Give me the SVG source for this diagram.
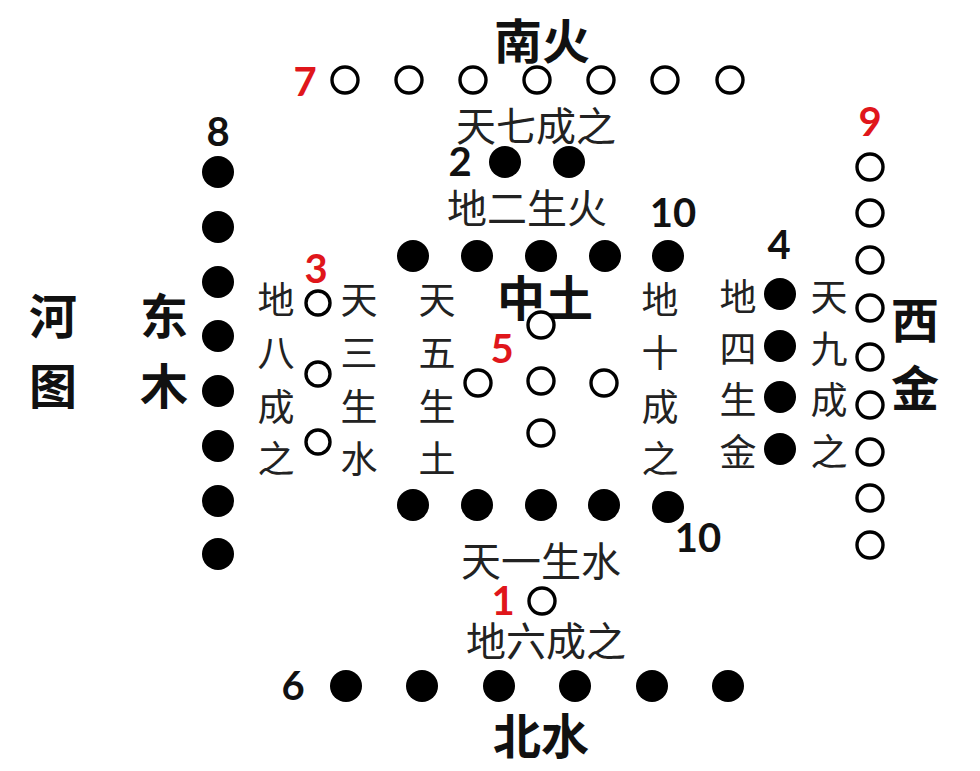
<svg xmlns="http://www.w3.org/2000/svg" width="980" height="771" viewBox="0 0 980 771">
<style>
  .o{fill:#fff;stroke:#000;stroke-width:3.4}
  .f{fill:#000}
  .t{font-family:"Noto Sans CJK SC","Noto Sans CJK JP",sans-serif;font-size:48px;font-weight:700;fill:#111;text-anchor:middle;dominant-baseline:central}
  .l{font-family:"Noto Sans CJK SC","Noto Sans CJK JP",sans-serif;font-size:37px;font-weight:400;fill:#222;text-anchor:middle;dominant-baseline:central}
  .h{font-size:40px}
  .n{font-family:Lato,"Open Sans",sans-serif;font-size:40px;font-weight:700;fill:#111;text-anchor:middle;dominant-baseline:central}
  .r{fill:#e0161b}
</style>
<rect width="980" height="771" fill="#fff"/>

<g id="title">
  <text class="t" x="53" y="313">河</text>
  <text class="t" x="53" y="383">图</text>
</g>

<g id="south-7">
  <text class="t" x="542" y="38">南火</text>
  <text class="n r" x="305" y="81">7</text>
  <circle class="o" cx="345" cy="80" r="13"/>
  <circle class="o" cx="409" cy="80" r="13"/>
  <circle class="o" cx="473" cy="80" r="13"/>
  <circle class="o" cx="537" cy="80" r="13"/>
  <circle class="o" cx="601" cy="80" r="13"/>
  <circle class="o" cx="665" cy="80" r="13"/>
  <circle class="o" cx="730" cy="80" r="13"/>
  <text class="l h" x="536" y="124">天七成之</text>
</g>

<g id="south-2">
  <text class="n" x="460" y="161">2</text>
  <circle class="f" cx="505" cy="162" r="16"/>
  <circle class="f" cx="569" cy="162" r="16"/>
  <text class="l h" x="527" y="206">地二生火</text>
</g>

<g id="center-10">
  <text class="n" x="673" y="212">10</text>
  <circle class="f" cx="413" cy="256" r="16"/>
  <circle class="f" cx="477" cy="256" r="16"/>
  <circle class="f" cx="541" cy="256" r="16"/>
  <circle class="f" cx="605" cy="256" r="16"/>
  <circle class="f" cx="668" cy="256" r="16"/>
  <circle class="f" cx="413" cy="505" r="16"/>
  <circle class="f" cx="477" cy="505" r="16"/>
  <circle class="f" cx="541" cy="505" r="16"/>
  <circle class="f" cx="604" cy="505" r="16"/>
  <circle class="f" cx="668" cy="507" r="16"/>
  <text class="n" x="698" y="537">10</text>
  <text class="l" x="660" y="298">地</text>
  <text class="l" x="660" y="351">十</text>
  <text class="l" x="660" y="405">成</text>
  <text class="l" x="660" y="457">之</text>
</g>

<g id="center-5">
  <text class="t" x="545" y="295">中土</text>
  <text class="l" x="437" y="298">天</text>
  <text class="l" x="437" y="351">五</text>
  <text class="l" x="437" y="405">生</text>
  <text class="l" x="437" y="457">土</text>
  <text class="n r" x="502" y="348">5</text>
  <circle class="o" cx="541" cy="325" r="13"/>
  <circle class="o" cx="478" cy="383" r="13"/>
  <circle class="o" cx="541" cy="381" r="13"/>
  <circle class="o" cx="604" cy="383" r="13"/>
  <circle class="o" cx="541" cy="433" r="13"/>
</g>

<g id="east-8">
  <text class="t" x="164" y="313">东</text>
  <text class="t" x="164" y="383">木</text>
  <text class="n" x="218" y="131">8</text>
  <circle class="f" cx="218" cy="172" r="16"/>
  <circle class="f" cx="218" cy="227" r="16"/>
  <circle class="f" cx="218" cy="282" r="16"/>
  <circle class="f" cx="218" cy="336" r="16"/>
  <circle class="f" cx="218" cy="391" r="16"/>
  <circle class="f" cx="218" cy="446" r="16"/>
  <circle class="f" cx="218" cy="501" r="16"/>
  <circle class="f" cx="218" cy="554" r="16"/>
</g>

<g id="east-3">
  <text class="l" x="276" y="298">地</text>
  <text class="l" x="276" y="351">八</text>
  <text class="l" x="276" y="405">成</text>
  <text class="l" x="276" y="457">之</text>
  <text class="n r" x="316" y="268">3</text>
  <circle class="o" cx="318" cy="303" r="12"/>
  <circle class="o" cx="318" cy="374" r="12"/>
  <circle class="o" cx="318" cy="442" r="12"/>
  <text class="l" x="359" y="298">天</text>
  <text class="l" x="359" y="351">三</text>
  <text class="l" x="359" y="405">生</text>
  <text class="l" x="359" y="457">水</text>
</g>

<g id="west-4">
  <text class="n" x="779" y="244">4</text>
  <text class="l" x="738" y="295">地</text>
  <text class="l" x="738" y="347">四</text>
  <text class="l" x="738" y="398">生</text>
  <text class="l" x="738" y="450">金</text>
  <circle class="f" cx="780" cy="294" r="16"/>
  <circle class="f" cx="780" cy="346" r="16"/>
  <circle class="f" cx="780" cy="397" r="16"/>
  <circle class="f" cx="780" cy="449" r="16"/>
  <text class="l" x="829" y="295">天</text>
  <text class="l" x="829" y="347">九</text>
  <text class="l" x="829" y="398">成</text>
  <text class="l" x="829" y="450">之</text>
</g>

<g id="west-9">
  <text class="n r" x="870" y="121">9</text>
  <circle class="o" cx="870" cy="167" r="13"/>
  <circle class="o" cx="870" cy="213" r="13"/>
  <circle class="o" cx="870" cy="260" r="13"/>
  <circle class="o" cx="870" cy="308" r="13"/>
  <circle class="o" cx="870" cy="357" r="13"/>
  <circle class="o" cx="870" cy="405" r="13"/>
  <circle class="o" cx="870" cy="452" r="13"/>
  <circle class="o" cx="870" cy="498" r="13"/>
  <circle class="o" cx="870" cy="545" r="13"/>
  <text class="t" x="915" y="317">西</text>
  <text class="t" x="915" y="385">金</text>
</g>

<g id="north-1">
  <text class="l h" x="541" y="559">天一生水</text>
  <text class="n r" x="503" y="600">1</text>
  <circle class="o" cx="542" cy="601" r="13"/>
  <text class="l h" x="546" y="639">地六成之</text>
</g>

<g id="north-6">
  <text class="n" x="293" y="685">6</text>
  <circle class="f" cx="346" cy="686" r="16"/>
  <circle class="f" cx="422" cy="686" r="16"/>
  <circle class="f" cx="499" cy="686" r="16"/>
  <circle class="f" cx="575" cy="686" r="16"/>
  <circle class="f" cx="652" cy="686" r="16"/>
  <circle class="f" cx="728" cy="686" r="16"/>
  <text class="t" x="541" y="733">北水</text>
</g>
</svg>
